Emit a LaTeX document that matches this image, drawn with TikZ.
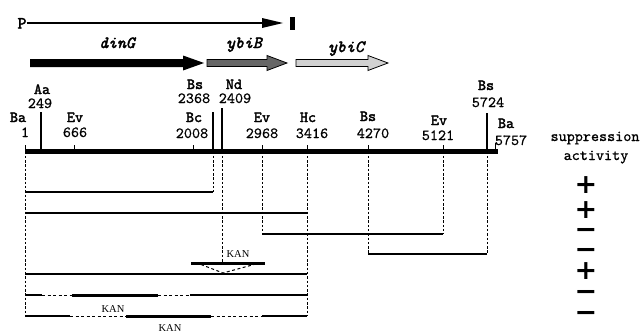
\documentclass[tikz,border=0pt]{standalone}
\usepackage{fontspec}
\setmainfont{Liberation Serif}
\newfontfamily\signfam{DejaVu Sans}
\newfontfamily\typew{lmmono10-regular.otf}[BoldFont=lmmono10-regular.otf, BoldFeatures={FakeBold=2.2}, ItalicFont=lmmono10-italic.otf, BoldItalicFont=lmmono10-italic.otf, BoldItalicFeatures={FakeBold=2.2}]
\newfontfamily\numfam{lmmono10-regular.otf}[FakeBold=0.8]
\begin{document}
\begin{tikzpicture}[x=1pt,y=-1pt,
  lab/.style={font=\typew\bfseries\fontsize{15.4}{16}\selectfont, inner sep=0pt, anchor=base},
  num/.style={font=\numfam\fontsize{15.4}{16}\selectfont, inner sep=0pt, anchor=base},
  genelab/.style={font=\typew\bfseries\itshape\fontsize{17}{18}\selectfont, inner sep=0pt, anchor=base},
  kan/.style={font=\fontsize{10.5}{11}\selectfont, inner sep=0pt, anchor=base},
  sign/.style={font=\signfam\bfseries\fontsize{27}{27}\selectfont, inner sep=0pt, text height=0.62em, text depth=0pt},
  mainline/.style={line width=5.5pt},
  frag/.style={line width=1.8pt},
  insert/.style={line width=3pt},
  guide/.style={line width=0.9pt, dash pattern=on 2.5pt off 1.8pt},
  gap/.style={line width=1pt, dash pattern=on 3pt off 2.5pt},
  longtick/.style={line width=1.2pt},
  shorttick/.style={line width=0.9pt},
  genearrow/.style={draw=black, line width=0.8pt, line join=miter},
]
\useasboundingbox (0,0) rectangle (644,332);

% promoter line
\node[lab, font=\typew\bfseries\fontsize{17}{18}\selectfont] (P) at (22,28.5) {P};
\coordinate (ptip) at (283,23);
\coordinate (pbase) at (262,23);
\draw[line width=1.3pt] (P.east |- ptip) -- (pbase);
\fill (262,18) -- (ptip) -- (262,28) -- cycle;
\fill (290,16.5) rectangle (294.5,30);

% genes
\node[genelab] (dinG) at (117,48) {dinG};
\node[genelab] (ybiB) at (244,48) {ybiB};
\node[genelab] (ybiC) at (346,52) {ybiC};
\fill[black] (30,59) -- (183,59) -- (183,55.5) -- (204,63) -- (183,70.5) -- (183,67) -- (30,67) -- cycle;
\filldraw[genearrow, fill=black!60] (207,59.5) -- (267,59.5) -- (267,55.5) -- (287,63) -- (267,70.5) -- (267,66.5) -- (207,66.5) -- cycle;
\filldraw[genearrow, fill=black!18] (296,59.5) -- (368,59.5) -- (368,55.5) -- (388,63) -- (368,70.5) -- (368,66.5) -- (296,66.5) -- cycle;

% map positions
\coordinate (m1) at (25,151.5);
\coordinate (m249) at (41,151.5);
\coordinate (m666) at (74,151.5);
\coordinate (m2008) at (193,151.5);
\coordinate (m2368) at (213,151.5);
\coordinate (m2409) at (222,151.5);
\coordinate (m2968) at (262,151.5);
\coordinate (m3416) at (307,151.5);
\coordinate (m4270) at (368,151.5);
\coordinate (m5121) at (443,151.5);
\coordinate (m5724) at (487,151.5);
\coordinate (m5757) at (498,151.5);

% ticks
\draw[longtick] (m249) -- ++(0,-39.5);
\draw[longtick] (m2368) -- ++(0,-39.5);
\draw[longtick] (m2409) -- ++(0,-43.5);
\draw[longtick] (m5724) -- ++(0,-38.5);
\foreach \c in {m1,m666,m2008,m2968,m3416,m4270,m5121}
  \draw[shorttick] (\c) -- ++(0,-7);
\draw[shorttick] (495,151.5) -- ++(0,-9);

% main line
\draw[mainline] (m1) -- (m5757);

% labels
\node[lab] (Ba1) at (18,122) {Ba};
\node[num] (n1) at (25,137) {1};
\node[lab] (Aa) at (42,94) {Aa};
\node[num] (n249) at (40,108) {249};
\node[lab] (Ev1) at (75,122) {Ev};
\node[num] (n666) at (75,137) {666};
\node[lab] (Bc) at (194,122) {Bc};
\node[num] (n2008) at (192,138) {2008};
\node[lab] (Bs1) at (195,89) {Bs};
\node[num] (n2368) at (194,103) {2368};
\node[lab] (Nd) at (234,89) {Nd};
\node[num] (n2409) at (235,103) {2409};
\node[lab] (Ev2) at (262,122) {Ev};
\node[num] (n2968) at (262,138) {2968};
\node[lab] (Hc) at (308,122) {Hc};
\node[num] (n3416) at (312,138) {3416};
\node[lab] (Bs2) at (368,121) {Bs};
\node[num] (n4270) at (373,138) {4270};
\node[lab] (Ev3) at (439,125) {Ev};
\node[num] (n5121) at (438,140) {5121};
\node[lab] (Bs3) at (486,90) {Bs};
\node[num] (n5724) at (488,107) {5724};
\node[lab] (Ba2) at (506,128) {Ba};
\node[num] (n5757) at (511,145) {5757};

% fragment rows
\coordinate (r1a) at (25,192);   \coordinate (r1b) at (213,192);
\coordinate (r2a) at (25,213);   \coordinate (r2b) at (307,213);
\coordinate (r3a) at (262,234);  \coordinate (r3b) at (443,234);
\coordinate (r4a) at (368,254);  \coordinate (r4b) at (487,254);
\coordinate (r5a) at (25,274);   \coordinate (r5b) at (307,274);
\coordinate (r6a) at (25,295);   \coordinate (r6b) at (307,295);
\coordinate (r7a) at (25,316);   \coordinate (r7b) at (307,316);

% guide lines
\draw[guide] (m1) -- (r7a);
\draw[guide] (m2368) -- (r1b);
\draw[guide] (m2409) -- (222,262);
\draw[guide] (m2968) -- (r3a);
\draw[guide] (m3416) -- (r7b);
\draw[guide] (m4270) -- (r4a);
\draw[guide] (m5121) -- (r3b);
\draw[guide] (m5724) -- (r4b);

\draw[frag] (r1a) -- (r1b);
\draw[frag] (r2a) -- (r2b);
\draw[frag] (r3a) -- (r3b);
\draw[frag] (r4a) -- (r4b);
\draw[frag] (r5a) -- (r5b);

% KAN insertion
\draw[insert] (191,263) coordinate (ka) -- (265,263) coordinate (kb);
\coordinate (kapex) at (223,273);
\draw[gap] (201,264.5) -- (kapex) -- (254,264.5);
\node[kan] (kan1) at (238,257) {KAN};

% row 6
\draw[frag] (r6a) -- (42,295);
\draw[gap] (42,295) -- (72,295);
\draw[insert] (72,295) -- (158,295);
\draw[gap] (158,295) -- (190,295);
\draw[frag] (190,295) -- (r6b);
\node[kan] (kan2) at (113,312) {KAN};

% row 7
\draw[frag] (r7a) -- (70,316);
\draw[gap] (70,316) -- (126,316);
\draw[insert] (126,316) -- (211,316);
\draw[gap] (211,316) -- (262,316);
\draw[frag] (262,316) -- (r7b);
\node[kan] (kan3) at (170,331) {KAN};

% suppression activity
\node[num] (sup) at (595,141) {suppression};
\node[num] (act) at (596,160) {activity};
\node[sign] (s1) at (586,190) {+};
\node[sign] (s2) at (586,215) {+};
\node[sign] (s3) at (586,235) {−};
\node[sign] (s4) at (586,255) {−};
\node[sign] (s5) at (586,276) {+};
\node[sign] (s6) at (586,297) {−};
\node[sign] (s7) at (586,318) {−};
\end{tikzpicture}
\end{document}
